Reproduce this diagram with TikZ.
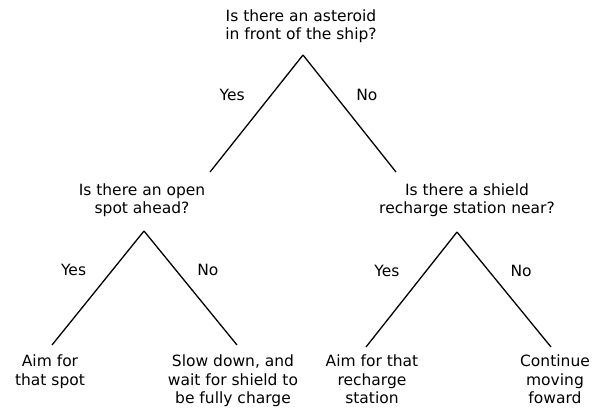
\documentclass[tikz,border=0pt]{standalone}
\usepackage{fontspec}
\setmainfont{DejaVu Sans}
\usetikzlibrary{positioning}

\begin{document}
\begin{tikzpicture}[
  x=1bp, y=-1bp,
  txt/.style={align=center, inner sep=0pt, anchor=north, font=\fontsize{15.5bp}{18.5bp}\selectfont},
  branch/.style={line width=1.3bp, black},
  yeslbl/.style={pos=0.34, left=26bp, inner sep=0pt, font=\fontsize{15.5bp}{18bp}\selectfont},
  nolbl/.style={pos=0.34, right=21bp, inner sep=0pt, font=\fontsize{15.5bp}{18bp}\selectfont}
]
\useasboundingbox (0,0) rectangle (599,411);

% --- Preguntas ---
\node[txt] (asteroid) at (301,9.3) {Is there an asteroid\\in front of the ship?};
\node[txt] (openspot) at (142,183.3) {Is there an open\\spot ahead?};
\node[txt] (station) at (467,183.3) {Is there a shield\\recharge station near?};

% --- Acciones ---
\node[txt] (aimspot) at (50,355) {Aim for\\that spot};
\node[txt] (slowdown) at (233,355) {Slow down, and\\wait for shield to\\be fully charge};
\node[txt] (aimstation) at (372,355) {Aim for that\\recharge\\station};
\node[txt] (continue) at (555,355) {Continue\\moving\\foward};

% --- Puntas de las ramas ---
\coordinate (asteroidtip) at (303,55);
\coordinate (openspottip) at (144,231);
\coordinate (stationtip) at (457,232);
\coordinate (openspotend) at (210,172);
\coordinate (stationend) at (396,172);
\coordinate (aimspotend) at (52,345);
\coordinate (slowdownend) at (237,345);
\coordinate (aimstationend) at (366,347);
\coordinate (continueend) at (551,347);

% --- Ramas ---
\draw[branch] (asteroidtip) -- node[yeslbl] {Yes} (openspotend);
\draw[branch] (asteroidtip) -- node[nolbl] {No} (stationend);
\draw[branch] (openspottip) -- node[yeslbl] {Yes} (aimspotend);
\draw[branch] (openspottip) -- node[nolbl] {No} (slowdownend);
\draw[branch] (stationtip) -- node[yeslbl] {Yes} (aimstationend);
\draw[branch] (stationtip) -- node[nolbl] {No} (continueend);

\end{tikzpicture}
\end{document}
